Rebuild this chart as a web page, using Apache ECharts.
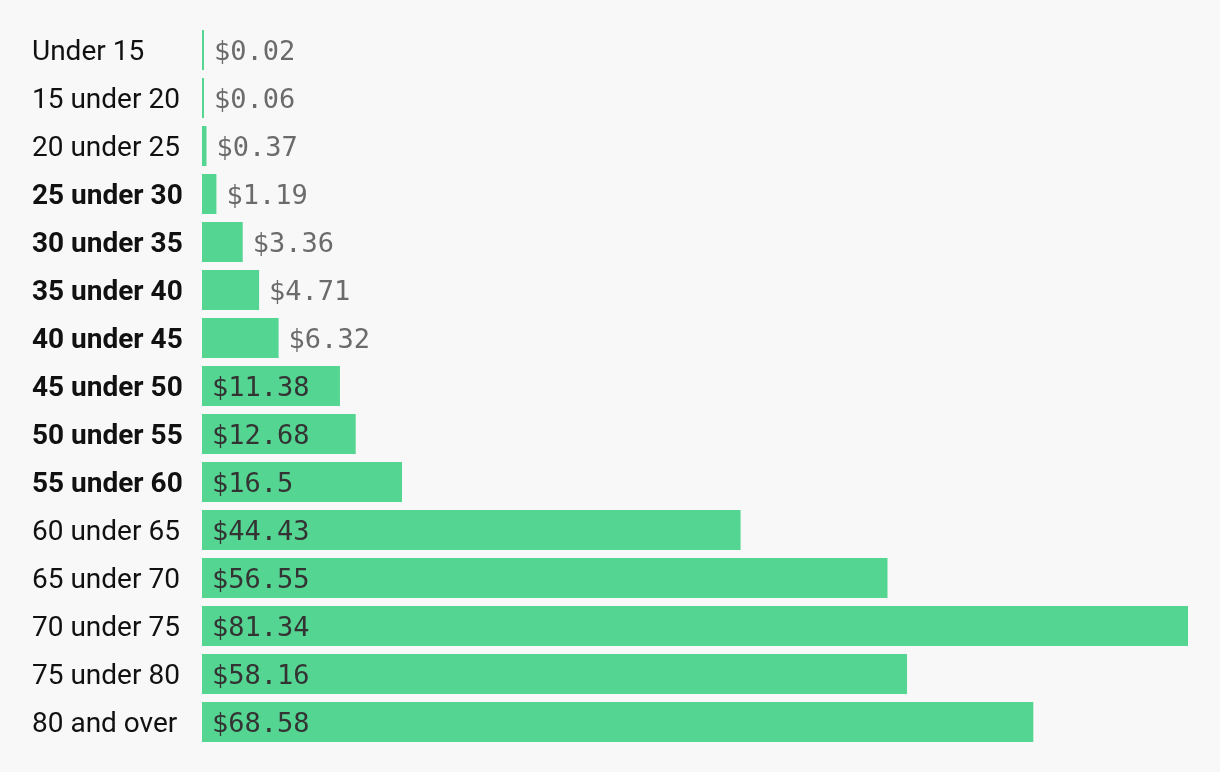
<!DOCTYPE html>
<html>
<head>
<meta charset="utf-8">
<script src="https://cdn.jsdelivr.net/npm/echarts@6/dist/echarts.min.js"></script>
<style>
html,body{margin:0;padding:0;background:#f8f8f8;}
#chart{width:1220px;height:772px;}
</style>
</head>
<body>
<div id="chart"></div>
<script>
const categories = ["Under 15","15 under 20","20 under 25","25 under 30","30 under 35","35 under 40","40 under 45","45 under 50","50 under 55","55 under 60","60 under 65","65 under 70","70 under 75","75 under 80","80 and over"];
const values = [0.02,0.06,0.37,1.19,3.36,4.71,6.32,11.38,12.68,16.5,44.43,56.55,81.34,58.16,68.58];
const boldCategories = ["25 under 30","30 under 35","35 under 40","40 under 45","45 under 50","50 under 55","55 under 60"];
const insideThreshold = 10;

const chart = echarts.init(document.getElementById('chart'));
const seriesData = values.map(v => {
  const inside = v >= insideThreshold;
  return {
    value: v,
    label: inside
      ? { position: 'insideLeft', distance: 10, color: '#333333' }
      : { position: 'right', distance: 10, color: '#6b6b6b' }
  };
});
const labelBase = { width: 150, align: 'left', fontFamily: 'Roboto', fontSize: 28, color: '#111111', padding: [6, 0, 0, 0] };
chart.setOption({
  backgroundColor: '#f8f8f8',
  animation: false,
  grid: { left: 202, right: 32, top: 26, height: 720, containLabel: false, outerBoundsMode: 'none' },
  xAxis: {
    type: 'value', min: 0, max: 'dataMax', show: false
  },
  yAxis: {
    type: 'category', inverse: true, data: categories,
    axisLine: { show: false }, axisTick: { show: false }, splitLine: { show: false },
    axisLabel: {
      margin: 20,
      formatter: c => (boldCategories.includes(c) ? '{b|' : '{n|') + c + '}',
      rich: {
        n: Object.assign({}, labelBase, { fontWeight: 'normal' }),
        b: Object.assign({}, labelBase, { fontWeight: 'bold' })
      }
    }
  },
  series: [{
    type: 'bar', data: seriesData, barWidth: 40, barMinHeight: 2,
    itemStyle: { color: '#55d592' },
    label: {
      show: true, fontFamily: 'DejaVu Sans Mono', fontSize: 27,
      offset: [0, 3],
      formatter: p => '$' + p.value
    }
  }]
});
</script>
</body>
</html>
